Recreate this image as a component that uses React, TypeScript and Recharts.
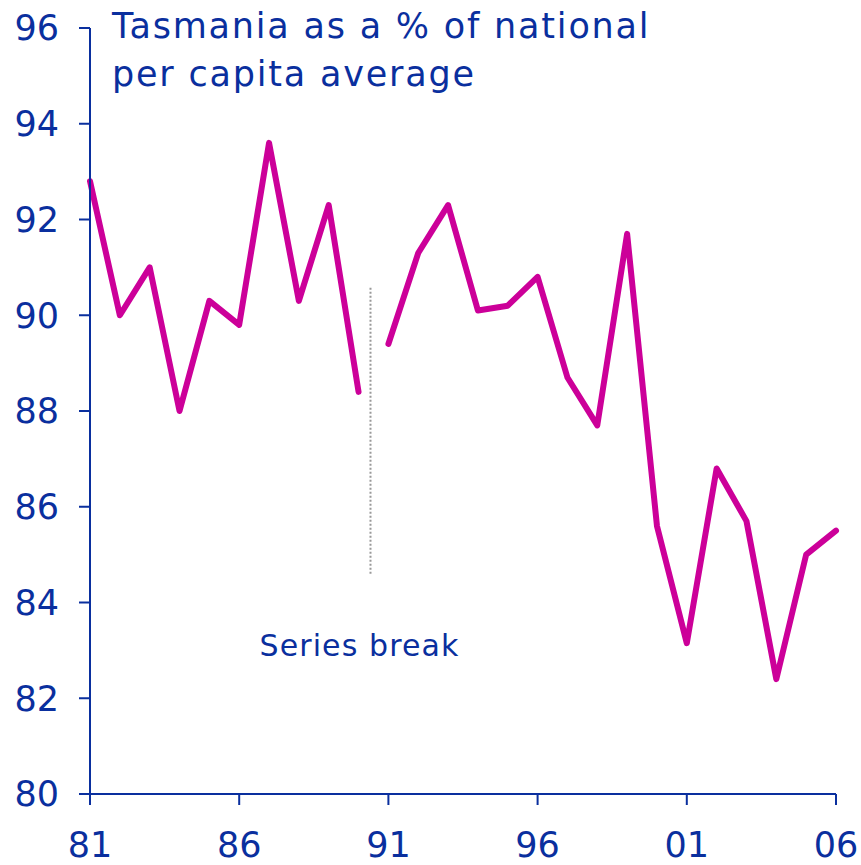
import { LineChart, Line, XAxis, YAxis, ReferenceLine, ReferenceDot } from 'recharts';

// 1981-2006, break between 1990 and 1991
const years = [
  1981, 1982, 1983, 1984, 1985, 1986, 1987, 1988, 1989, 1990,
  1991, 1992, 1993, 1994, 1995, 1996, 1997, 1998, 1999, 2000,
  2001, 2002, 2003, 2004, 2005, 2006,
];
const oldSeries = [92.8, 90.0, 91.0, 88.0, 90.3, 89.8, 93.6, 90.3, 92.3, 88.4];
const newSeries = [
  89.4, 91.3, 92.3, 90.1, 90.2, 90.8, 88.7, 87.7, 91.7, 85.6,
  83.15, 86.8, 85.7, 82.4, 85.0, 85.5,
];
const xTicks = [1981, 1986, 1991, 1996, 2001, 2006];
const yTicks = [80, 82, 84, 86, 88, 90, 92, 94, 96];
const breakYear = 1990.4;
const breakRange = [84.6, 90.6];
const titleLines = ['Tasmania as a % of national', 'per capita average'];

const BLUE = '#0a2f9e';
const MAGENTA = '#cc0099';
const FONT = '"DejaVu Sans", Verdana, sans-serif';

const data = years.map((year, i) => ({
  year,
  before: i < oldSeries.length ? oldSeries[i] : null,
  after: i >= oldSeries.length ? newSeries[i - oldSeries.length] : null,
}));

const BreakLabel = (props: any) => {
  const { cx, cy } = props;
  return (
    <text
      x={cx - 11}
      y={cy}
      textAnchor="middle"
      dominantBaseline="middle"
      fill={BLUE}
      fontSize={30}
      letterSpacing={1.1}
      fontFamily={FONT}
    >
      Series break
    </text>
  );
};

export default function App() {
  return (
    <div style={{ position: 'relative', width: 861, height: 865 }}>
      <style>{'body{margin:0}'}</style>
      <LineChart width={861} height={865} data={data} margin={{ top: 28, right: 25, bottom: 0, left: 0 }}>
        <XAxis
          dataKey="year"
          type="number"
          domain={[1981, 2006]}
          ticks={xTicks}
          tickFormatter={(v: number) => String(v % 100).padStart(2, '0')}
          height={71}
          tickSize={11}
          tickMargin={27}
          stroke={BLUE}
          strokeWidth={2}
          tick={{ fill: BLUE, fontSize: 35, fontFamily: FONT }}
        />
        <YAxis
          domain={[80, 96]}
          ticks={yTicks}
          width={90}
          tickSize={11}
          tickMargin={20}
          stroke={BLUE}
          strokeWidth={2}
          tick={{ fill: BLUE, fontSize: 35, fontFamily: FONT }}
        />
        <ReferenceLine
          segment={[
            { x: breakYear, y: breakRange[0] },
            { x: breakYear, y: breakRange[1] },
          ]}
          stroke="#999999"
          strokeWidth={2}
          strokeDasharray="2 2"
        />
        <ReferenceDot x={breakYear} y={83.05} r={0} shape={BreakLabel} />
        <Line
          dataKey="before"
          stroke={MAGENTA}
          strokeWidth={6}
          strokeLinejoin="round"
          strokeLinecap="round"
          dot={false}
          isAnimationActive={false}
          connectNulls={false}
        />
        <Line
          dataKey="after"
          stroke={MAGENTA}
          strokeWidth={6}
          strokeLinejoin="round"
          strokeLinecap="round"
          dot={false}
          isAnimationActive={false}
          connectNulls={false}
        />
      </LineChart>
      <div
        style={{
          position: 'absolute',
          left: 112,
          top: 2,
          color: BLUE,
          fontFamily: FONT,
          fontSize: 35,
          letterSpacing: 1.8,
          lineHeight: '48px',
        }}
      >
        {titleLines.map((t) => (
          <div key={t}>{t}</div>
        ))}
      </div>
    </div>
  );
}
